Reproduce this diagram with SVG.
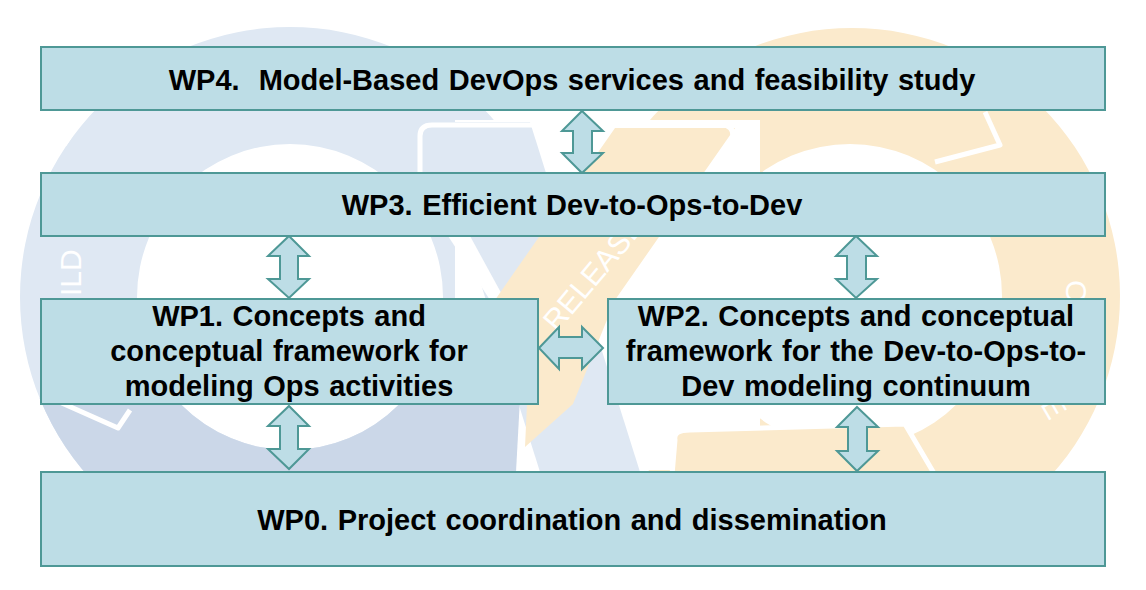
<svg xmlns="http://www.w3.org/2000/svg" width="1146" height="590" viewBox="0 0 1146 590">
  <style>
    .box { fill: #bddde6; stroke: #4e9896; stroke-width: 2; }
    .arr { fill: #bddde6; stroke: #4e9896; stroke-width: 2; stroke-linejoin: miter; }
    .lbl { font-family: "Liberation Sans", Arial, sans-serif; font-weight: bold; font-size: 29px; fill: #000; text-anchor: middle; word-spacing: 1.5px; }
    .bgtxt { font-family: "Liberation Sans", Arial, sans-serif; font-size: 30px; fill: #ffffff; }
    .gap { fill: none; stroke: #ffffff; stroke-width: 5; stroke-linejoin: round; }
  </style>
  <defs>
    <clipPath id="lowerClip"><rect x="0" y="398" width="1146" height="200"/></clipPath>
  </defs>
  <rect width="1146" height="590" fill="#ffffff"/>
  <g id="background">
    <!-- blue loop -->
    <path fill="#dfe8f3" fill-rule="evenodd" d="M20,297 a270,270 0 1,0 540,0 a270,270 0 1,0 -540,0 Z M137,297 a153,153 0 1,0 306,0 a153,153 0 1,0 -306,0 Z"/>
    <path fill="#cbd7e8" fill-rule="evenodd" clip-path="url(#lowerClip)" d="M20,297 a270,270 0 1,0 540,0 a270,270 0 1,0 -540,0 Z M137,297 a153,153 0 1,0 306,0 a153,153 0 1,0 -306,0 Z"/>
    <!-- yellow loop -->
    <path fill="#fbeacc" fill-rule="evenodd" d="M584,296 a268,268 0 1,0 536,0 a268,268 0 1,0 -536,0 Z M698,296 a152,152 0 1,0 304,0 a152,152 0 1,0 -304,0 Z"/>
    <!-- central crossing -->
    <polygon fill="#ffffff" points="455,120 760,120 760,470 455,470"/>
    <polygon fill="#dfe8f3" points="430,122 530,122 640,472 540,472"/>
    <polygon fill="#cbd7e8" points="455,398 520,398 516,472 455,472"/>
    <polygon fill="#ffffff" points="448,236 470,236 505,300 490,300"/>
    <polygon fill="#fbeacc" points="615,128 735,128 615,300 573,404 525,447 527,404 495,300"/>
    <path fill="#fbeacc" stroke="#ffffff" stroke-width="5" d="M675,440 Q673,430 690,430 L905,424 L935,475 L672,475 Z"/>
    <path class="gap" d="M420,200 L420,136 Q420,125 432,125 L722,125 Q733,125 733,136 L733,175"/>
    <path class="gap" d="M985,112 L1000,145 L935,162"/>
    <path class="gap" stroke-width="4" d="M80,120 L64,145"/>
    <path class="gap" stroke-width="4" d="M55,400 L118,428 L130,410"/>
    <text class="bgtxt" transform="translate(81,296) rotate(-90)">ILD</text>
    <text class="bgtxt" font-size="28" transform="translate(557,333) rotate(-50)">RELEASE</text>
    <text class="bgtxt" transform="translate(1066,280) rotate(90)">O</text>
    <text class="bgtxt" transform="translate(1040,404) rotate(60)">E</text>
  </g>
  <g id="connectors">
    <polygon class="arr" points="582,111 603,131 592,131 592,153 603,153 582,173 562,153 573,153 573,131 562,131"/>
    <polygon class="arr" points="289,236 309,256 298,256 298,279 309,279 289,298 268,279 280,279 280,256 268,256"/>
    <polygon class="arr" points="856,236 877,256 866,256 866,279 877,279 856,298 836,279 847,279 847,256 836,256"/>
    <polygon class="arr" points="289,406 309,426 298,426 298,449 309,449 289,469 268,449 280,449 280,426 268,426"/>
    <polygon class="arr" points="857,407 878,427 867,427 867,451 878,451 857,471 837,451 848,451 848,427 837,427"/>
    <polygon class="arr" points="539,348 559,327 559,337 582,337 582,327 603,348 582,369 582,358 559,358 559,369"/>
  </g>
  <g id="wp4">
    <rect class="box" x="41" y="47" width="1064" height="63"/>
    <text class="lbl" x="572" y="90" xml:space="preserve">WP4.  Model-Based DevOps services and feasibility study</text>
  </g>
  <g id="wp3">
    <rect class="box" x="41" y="173" width="1064" height="63"/>
    <text class="lbl" x="572" y="215">WP3. Efficient Dev-to-Ops-to-Dev</text>
  </g>
  <g id="wp1">
    <rect class="box" x="41" y="299" width="497" height="105"/>
    <text class="lbl" x="289" y="326">WP1. Concepts and</text>
    <text class="lbl" x="289" y="361">conceptual framework for</text>
    <text class="lbl" x="289" y="396">modeling Ops activities</text>
  </g>
  <g id="wp2">
    <rect class="box" x="608" y="299" width="497" height="105"/>
    <text class="lbl" x="856" y="326">WP2. Concepts and conceptual</text>
    <text class="lbl" x="856" y="361">framework for the Dev-to-Ops-to-</text>
    <text class="lbl" x="856" y="396">Dev modeling continuum</text>
  </g>
  <g id="wp0">
    <rect class="box" x="41" y="472" width="1064" height="94"/>
    <text class="lbl" x="572" y="530">WP0. Project coordination and dissemination</text>
  </g>
</svg>
